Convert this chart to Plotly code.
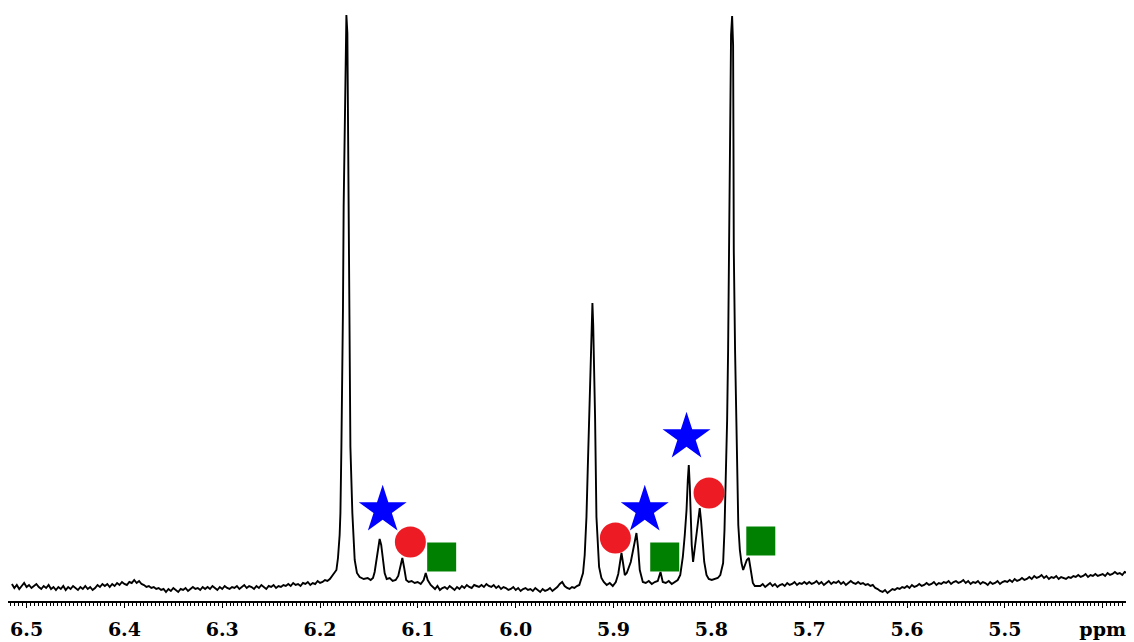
import plotly.graph_objects as go

# ---------------- data (ppm, intensity in arbitrary units) ----------------
# Baseline segment A: 6.515 -> 6.190 ppm, step 0.0025
segA_start, segA_step = 6.515, 0.0025
segA_int = [17, 13, 16, 12, 15, 18, 14, 16, 13, 15,
            17, 14, 12, 15, 13, 16, 12, 14, 11, 14,
            12, 15, 11, 14, 12, 15, 13, 11, 14, 12,
            15, 12, 14, 11, 13, 16, 14, 17, 15, 17,
            14, 17, 15, 18, 16, 19, 17, 16, 19, 18,
            21, 18, 20, 17, 16, 14, 15, 13, 14, 12,
            13, 11, 12, 9, 12, 10, 13, 11, 9, 12,
            11, 13, 10, 12, 14, 12, 13, 11, 14, 12,
            14, 12, 15, 13, 11, 14, 12, 15, 13, 12,
            14, 13, 15, 12, 14, 16, 13, 15, 14, 12,
            15, 13, 16, 14, 12, 15, 14, 16, 13, 15,
            14, 16, 15, 17, 15, 18, 16, 17, 15, 18,
            17, 19, 16, 18, 17, 20, 18, 19, 21, 20,
            22]

# Peak region 1 (6.18 ppm singlet + small multiplet)
pk1_ppm = [6.1833, 6.1817, 6.1800, 6.1792, 6.1782, 6.1772, 6.1766, 6.1759, 6.1749, 6.1742,
           6.1731, 6.1721, 6.1715, 6.1711, 6.1705, 6.1697, 6.1690, 6.1670, 6.1646, 6.1623,
           6.1595, 6.1554, 6.1513, 6.1483, 6.1459, 6.1442, 6.1421, 6.1406, 6.1391, 6.1375,
           6.1360, 6.1340, 6.1319, 6.1288, 6.1258, 6.1227, 6.1201, 6.1181, 6.1159, 6.1140,
           6.1120, 6.1094, 6.1064, 6.1033, 6.1002, 6.0971, 6.0941, 6.0920, 6.0900, 6.0869]
pk1_int = [31, 43, 66, 88, 154, 221, 291, 394, 471, 546,
           586, 568, 481, 401, 268, 211, 154, 88, 41, 28,
           24, 22, 23, 21, 23, 29, 44, 56, 62, 56,
           44, 28, 22, 23, 20, 21, 25, 35, 43, 33,
           21, 19, 20, 18, 19, 17, 21, 28, 21, 16]

# Baseline segment B: 6.085 -> 5.935 ppm, step 0.0025
segB_start, segB_step = 6.085, 0.0025
segB_int = [14, 12, 15, 11, 13, 14, 12, 15, 13, 11,
            14, 12, 15, 13, 16, 14, 13, 16, 15, 14,
            16, 14, 17, 15, 14, 16, 13, 15, 12, 14,
            13, 11, 12, 14, 11, 13, 10, 12, 13, 11,
            12, 10, 13, 11, 9, 12, 10, 11, 13, 10,
            12, 14, 17, 19, 15, 13, 12, 14, 13, 15,
            16]

# Peak region 2 (5.92 - 5.76 ppm)
pk2_ppm = [5.9325, 5.9312, 5.9295, 5.9277, 5.9264, 5.9250, 5.9236, 5.9226, 5.9216, 5.9208,
           5.9200, 5.9189, 5.9175, 5.9162, 5.9148, 5.9124, 5.9100, 5.9070, 5.9039, 5.9008,
           5.8977, 5.8952, 5.8936, 5.8919, 5.8903, 5.8885, 5.8865, 5.8845, 5.8824, 5.8804,
           5.8783, 5.8766, 5.8749, 5.8732, 5.8701, 5.8671, 5.8640, 5.8609, 5.8579, 5.8548,
           5.8520, 5.8497, 5.8466, 5.8436, 5.8405, 5.8374, 5.8344, 5.8318, 5.8292, 5.8272,
           5.8254, 5.8241, 5.8231, 5.8221, 5.8214, 5.8201, 5.8187, 5.8170, 5.8152, 5.8134,
           5.8119, 5.8106, 5.8091, 5.8073, 5.8050, 5.8027, 5.7996, 5.7965, 5.7935, 5.7909,
           5.7894, 5.7880, 5.7866, 5.7853, 5.7839, 5.7829, 5.7819, 5.7812, 5.7799, 5.7788,
           5.7778, 5.7774, 5.7771, 5.7758, 5.7747, 5.7737, 5.7725, 5.7709, 5.7692, 5.7675,
           5.7658, 5.7638, 5.7617, 5.7597, 5.7576, 5.7556]
pk2_int = [23, 28, 46, 84, 131, 184, 241, 271, 298, 276,
           244, 184, 84, 51, 34, 23, 19, 16, 18, 15,
           19, 27, 38, 48, 38, 26, 28, 33, 39, 49,
           61, 68, 53, 31, 19, 18, 20, 17, 19, 20,
           29, 19, 18, 20, 17, 19, 21, 26, 44, 66,
           91, 121, 136, 116, 91, 56, 39, 53, 68, 86,
           93, 81, 58, 39, 26, 22, 21, 22, 23, 26,
           31, 38, 71, 118, 181, 251, 351, 451, 566, 585,
           556, 451, 351, 251, 181, 118, 76, 51, 38, 31,
           35, 41, 43, 31, 18, 15]

# Baseline segment C: 5.750 -> 5.370 ppm, step 0.0025
segC_start, segC_step = 5.750, 0.0025
segC_int = [15, 17, 14, 16, 18, 15, 17, 14, 16, 17,
            15, 18, 16, 17, 19, 16, 18, 17, 19, 17,
            19, 17, 18, 20, 17, 19, 16, 18, 20, 17,
            19, 18, 20, 17, 19, 16, 18, 20, 18, 17,
            19, 17, 18, 16, 17, 15, 16, 13, 12, 10,
            9, 11, 8, 10, 12, 11, 13, 12, 14, 13,
            15, 13, 16, 14, 15, 17, 15, 16, 18, 16,
            17, 19, 16, 18, 17, 19, 18, 20, 17, 19,
            20, 18, 19, 21, 18, 20, 17, 19, 18, 20,
            17, 19, 18, 16, 19, 17, 18, 20, 17, 19,
            20, 19, 21, 19, 22, 20, 21, 23, 21, 22,
            24, 22, 25, 23, 24, 26, 23, 25, 22, 24,
            23, 25, 22, 24, 23, 22, 24, 23, 25, 24,
            26, 24, 25, 27, 24, 26, 25, 27, 25, 26,
            27, 25, 28, 26, 27, 29, 27, 28, 26, 29,
            28, 30, 29]

# Annotation symbols (position in ppm / intensity)
star_ppm = [6.1360, 5.8681, 5.8254]
star_int = [91, 91, 164]
circle_ppm = [6.1077, 5.8981, 5.8024]
circle_int = [59, 63, 108]
square_ppm = [6.0757, 5.8477, 5.7495]
square_int = [44, 44, 60]

tick_vals = [6.5, 6.4, 6.3, 6.2, 6.1, 6.0, 5.9, 5.8, 5.7, 5.6, 5.5, 5.4]
tick_text = ["6.5", "6.4", "6.3", "6.2", "6.1", "6.0", "5.9", "5.8", "5.7", "5.6", "5.5", "ppm"]


def grid(start, step, vals):
    return [round(start - step * i, 5) for i in range(len(vals))]


ppm = (grid(segA_start, segA_step, segA_int) + pk1_ppm +
       grid(segB_start, segB_step, segB_int) + pk2_ppm +
       grid(segC_start, segC_step, segC_int))
intensity = segA_int + pk1_int + segB_int + pk2_int + segC_int

fig = go.Figure()
fig.add_trace(go.Scatter(x=ppm, y=intensity, mode="lines",
                         line=dict(color="black", width=1.9), hoverinfo="skip"))
fig.add_trace(go.Scatter(x=star_ppm, y=star_int, mode="markers",
                         marker=dict(symbol="star", size=36, color="#0000FF", line=dict(width=0))))
fig.add_trace(go.Scatter(x=circle_ppm, y=circle_int, mode="markers",
                         marker=dict(symbol="circle", size=31, color="#ED1C24", line=dict(width=0))))
fig.add_trace(go.Scatter(x=square_ppm, y=square_int, mode="markers",
                         marker=dict(symbol="square", size=29, color="#008000", line=dict(width=0))))

# page body has an 8px default margin -> figure is 8px smaller each way
fig.update_layout(
    width=1126, height=634,
    margin=dict(l=0, r=0, t=0, b=41, autoexpand=False),
    paper_bgcolor="white", plot_bgcolor="white",
    showlegend=False,
    xaxis=dict(range=[6.519, 5.368], showgrid=False, zeroline=False,
               showline=True, linecolor="black", linewidth=2,
               tickmode="array", tickvals=tick_vals, ticktext=tick_text,
               ticks="outside", ticklen=5, tickwidth=1, tickcolor="black",
               ticklabelstandoff=5,
               tickfont=dict(family="DejaVu Serif", size=19, color="black", weight="bold"),
               minor=dict(tickmode="linear", tick0=5.4, dtick=0.004, ticks="outside",
                          ticklen=3, tickwidth=1, tickcolor="black", showgrid=False)),
    yaxis=dict(range=[0, 593], visible=False, showgrid=False, zeroline=False),
)

fig.write_html("out.html")
